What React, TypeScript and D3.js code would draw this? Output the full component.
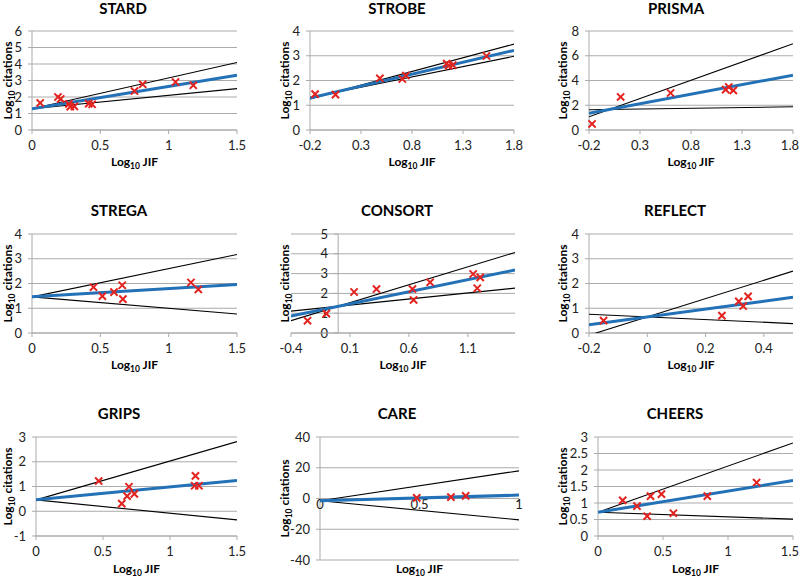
import React from "react";
import * as d3 from "d3";

// ---------- data ----------
const titles = ["STARD", "STROBE", "PRISMA", "STREGA", "CONSORT", "REFLECT", "GRIPS", "CARE", "CHEERS"];

const stardX = [0.06, 0.19, 0.21, 0.27, 0.28, 0.31, 0.415, 0.44, 0.75, 0.81, 1.05, 1.18];
const stardY = [1.64, 2.0, 1.88, 1.58, 1.42, 1.43, 1.6, 1.56, 2.36, 2.77, 2.91, 2.71];

const strobeX = [-0.15, 0.05, 0.485, 0.705, 0.74, 1.14, 1.16, 1.2, 1.53];
const strobeY = [1.45, 1.43, 2.09, 2.06, 2.2, 2.68, 2.6, 2.62, 2.99];

const prismaX = [-0.17, 0.11, 0.6, 1.14, 1.17, 1.215];
const prismaY = [0.49, 2.67, 2.99, 3.26, 3.48, 3.2];

const stregaX = [0.45, 0.515, 0.6, 0.66, 0.665, 1.163, 1.217];
const stregaY = [1.85, 1.49, 1.65, 1.93, 1.37, 2.04, 1.76];

const consortX = [-0.26, -0.1, 0.135, 0.325, 0.63, 0.64, 0.78, 1.145, 1.205, 1.18];
const consortY = [0.62, 0.98, 2.07, 2.22, 2.22, 1.67, 2.56, 2.98, 2.81, 2.26];

const reflectX = [-0.15, 0.256, 0.314, 0.329, 0.346];
const reflectY = [0.5, 0.7, 1.28, 1.09, 1.48];

const gripsX = [0.468, 0.64, 0.68, 0.694, 0.734, 1.19, 1.184, 1.216];
const gripsY = [1.22, 0.31, 0.61, 0.99, 0.7, 1.43, 1.03, 1.03];

const careX = [0.486, 0.658, 0.732];
const careY = [0.4, 0.9, 1.7];

const cheersX = [0.19, 0.3, 0.378, 0.404, 0.488, 0.58, 0.841, 1.22];
const cheersY = [1.08, 0.905, 0.6, 1.21, 1.27, 0.69, 1.21, 1.62];

const pointsX = [stardX, strobeX, prismaX, stregaX, consortX, reflectX, gripsX, careX, cheersX];
const pointsY = [stardY, strobeY, prismaY, stregaY, consortY, reflectY, gripsY, careY, cheersY];

const intercepts = [1.29, 1.48, 1.66, 1.46, 1.35, 0.65, 0.46, -1.5, 0.72];
const slopes = [1.35, 0.965, 1.54, 0.33, 1.22, 1.58, 0.52, 3.7, 0.64];
const upperSlopes = [1.87, 1.106, 2.95, 1.14, 1.81, 3.7, 1.57, 19.5, 1.4];
const lowerSlopes = [0.81, 0.833, 0.12, -0.46, 0.61, -0.54, -0.54, -12.4, -0.14];

const xDomains = [[0, 1.5], [-0.2, 1.8], [-0.2, 1.8], [0, 1.5], [-0.4, 1.5], [-0.2, 0.5], [0, 1.5], [0, 1], [0, 1.5]];
const xTicks = [
  [0, 0.5, 1, 1.5],
  [-0.2, 0.3, 0.8, 1.3, 1.8],
  [-0.2, 0.3, 0.8, 1.3, 1.8],
  [0, 0.5, 1, 1.5],
  [-0.4, 0.1, 0.6, 1.1],
  [-0.2, 0, 0.2, 0.4],
  [0, 0.5, 1, 1.5],
  [0, 0.5, 1],
  [0, 0.5, 1, 1.5],
];
const yDomains = [[0, 6], [0, 4], [0, 8], [0, 4], [0, 5], [0, 4], [-1, 3], [-40, 40], [0, 3]];
const yTicks = [
  [0, 1, 2, 3, 4, 5, 6],
  [0, 1, 2, 3, 4],
  [0, 2, 4, 6, 8],
  [0, 1, 2, 3, 4],
  [0, 1, 2, 3, 4, 5],
  [0, 1, 2, 3, 4],
  [-1, 0, 1, 2, 3],
  [-40, -20, 0, 20, 40],
  [0, 0.5, 1, 1.5, 2, 2.5, 3],
];
// value where the vertical axis crosses the x axis, and vice versa
const yAxisAtX = [0, -0.2, -0.2, 0, 0, -0.2, 0, 0, 0];
const xAxisAtY = [0, 0, 0, 0, 0, 0, -1, 0, 0];

// ---------- layout ----------
type Box = { l: number; r: number; t: number; b: number; tx: number; ty: number; yt: number; xl: number; xt: number };
const layout: Box[] = [
  { l: 32, r: 237, t: 31, b: 130, tx: 123, ty: 14, yt: 7, xl: 20, xt: 166 },
  { l: 310, r: 514, t: 31, b: 130, tx: 397, ty: 14, yt: 284, xl: 20, xt: 166 },
  { l: 589, r: 793, t: 31, b: 130, tx: 676, ty: 14, yt: 562, xl: 20, xt: 166 },
  { l: 32, r: 237, t: 234, b: 333, tx: 119, ty: 216, yt: 7, xl: 20, xt: 369 },
  { l: 291, r: 515, t: 234, b: 333, tx: 397, ty: 216, yt: 284, xl: 20, xt: 369 },
  { l: 589, r: 793, t: 234, b: 333, tx: 675, ty: 216, yt: 562, xl: 20, xt: 369 },
  { l: 36, r: 237, t: 437, b: 536, tx: 119, ty: 419, yt: 7, xl: 20, xt: 573 },
  { l: 320, r: 519, t: 437, b: 560, tx: 397, ty: 419, yt: 284, xl: 10, xt: 573 },
  { l: 598, r: 793, t: 437, b: 536, tx: 675, ty: 419, yt: 562, xl: 20, xt: 573 },
];

const FONT = "Lato, 'Open Sans', sans-serif";
const GRID = "#ababab";
const BLUE = "#2371b6";
const RED = "#e3231f";
const PAGE_W = 800;

function Panel({ i }: { i: number }) {
  const L = layout[i];
  const x = d3.scaleLinear().domain(xDomains[i]).range([L.l, L.r]);
  const y = d3.scaleLinear().domain(yDomains[i]).range([L.b, L.t]);
  const [x0, x1] = xDomains[i];
  const mk = (slope: number) => {
    const g = d3
      .line<[number, number]>()
      .x((d) => x(d[0]))
      .y((d) => y(d[1]));
    return g([
      [x0, intercepts[i] + slope * x0],
      [x1, intercepts[i] + slope * x1],
    ]) as string;
  };
  const axX = x(yAxisAtX[i]);
  const axY = y(xAxisAtY[i]);
  const clipId = `clip${i}`;
  const fmt = (v: number) => String(v);
  return (
    <g>
      <defs>
        <clipPath id={clipId}>
          <rect x={L.l} y={L.t} width={L.r - L.l} height={L.b - L.t} />
        </clipPath>
      </defs>
      <text x={L.tx} y={L.ty} textAnchor="middle" fontFamily={FONT} fontWeight="bold" fontSize={15} fill="#000">
        {titles[i]}
      </text>
      {yTicks[i].map((t) => (
        <g key={"gy" + t}>
          <line x1={L.l} x2={L.r} y1={y(t)} y2={y(t)} stroke={GRID} strokeWidth={1} />
          <line x1={axX - 4} x2={axX} y1={y(t)} y2={y(t)} stroke={GRID} strokeWidth={1} />
          <text x={axX - 10} y={y(t)} dy="0.35em" textAnchor="end" fontFamily={FONT} fontSize={13} fill="#222">
            {fmt(t)}
          </text>
        </g>
      ))}
      <line x1={axX} x2={axX} y1={L.t} y2={L.b} stroke={GRID} strokeWidth={1} />
      <line x1={L.l} x2={L.r} y1={axY} y2={axY} stroke={GRID} strokeWidth={1} />
      {xTicks[i].map((t) => {
        const label = fmt(t);
        const half = label.length * 3.6;
        const tx = x(t);
        const overflow = tx + half > PAGE_W - 1;
        return (
          <g key={"gx" + t}>
            <line x1={tx} x2={tx} y1={axY} y2={axY + 4} stroke={GRID} strokeWidth={1} />
            <text
              x={overflow ? PAGE_W - 1 : tx}
              y={axY + L.xl}
              textAnchor={overflow ? "end" : "middle"}
              fontFamily={FONT}
              fontSize={13}
              fill="#222"
            >
              {label}
            </text>
          </g>
        );
      })}
      <g clipPath={`url(#${clipId})`}>
        <path d={mk(upperSlopes[i])} stroke="#000" strokeWidth={1.1} fill="none" />
        <path d={mk(lowerSlopes[i])} stroke="#000" strokeWidth={1.1} fill="none" />
        <path d={mk(slopes[i])} stroke={BLUE} strokeWidth={3} fill="none" />
      </g>
      {pointsX[i].map((px, k) => {
        const cx = x(px);
        const cy = y(pointsY[i][k]);
        const s = 3.6;
        return (
          <path
            key={"p" + k}
            d={`M${cx - s},${cy - s}L${cx + s},${cy + s}M${cx - s},${cy + s}L${cx + s},${cy - s}`}
            stroke={RED}
            strokeWidth={2}
            fill="none"
          />
        );
      })}
      <text x={(L.l + L.r) / 2} y={L.xt} textAnchor="middle" fontFamily={FONT} fontWeight="bold" fontSize={12} fill="#000">
        Log
        <tspan fontSize={8.5} dy={3}>10</tspan>
        <tspan dy={-3}> JIF</tspan>
      </text>
      <text
        transform={`translate(${L.yt + 5},${(L.t + L.b) / 2}) rotate(-90)`}
        textAnchor="middle"
        fontFamily={FONT}
        fontWeight="bold"
        fontSize={12}
        fill="#000"
      >
        Log
        <tspan fontSize={8.5} dy={3}>10</tspan>
        <tspan dy={-3}> citations</tspan>
      </text>
    </g>
  );
}

export default function App() {
  return (
    <svg width={800} height={577} style={{ position: "absolute", left: 0, top: 0, background: "#fff" }}>
      <rect width={800} height={577} fill="#fff" />
      {titles.map((_, i) => (
        <Panel key={i} i={i} />
      ))}
    </svg>
  );
}
